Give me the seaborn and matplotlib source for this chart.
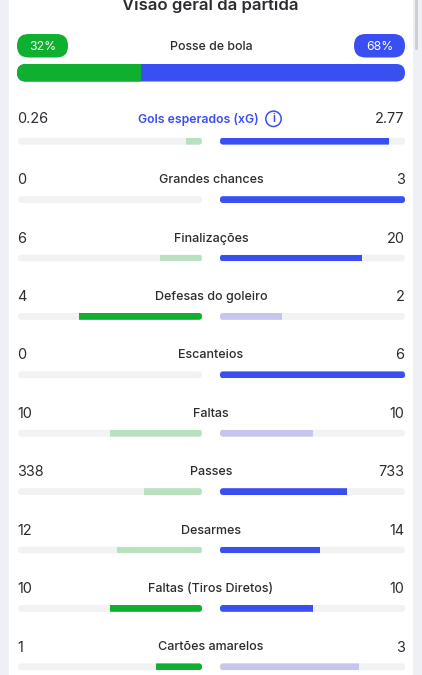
# -*- coding: utf-8 -*-
import matplotlib
matplotlib.use('Agg')
import matplotlib.pyplot as plt
from matplotlib.patches import FancyBboxPatch, Rectangle, Circle
import pandas as pd
import seaborn as sns

TITLE = 'Visão geral da partida'
POSSESSION_LABEL = 'Posse de bola'
POSSESSION_LEFT = 32
POSSESSION_RIGHT = 68

STATS = ['Gols esperados (xG)', 'Grandes chances', 'Finalizações', 'Defesas do goleiro', 'Escanteios',
         'Faltas', 'Passes', 'Desarmes', 'Faltas (Tiros Diretos)', 'Cartões amarelos']
LEFT_VALUES = [0.26, 0, 6, 4, 0, 10, 338, 12, 10, 1]
RIGHT_VALUES = [2.77, 3, 20, 2, 6, 10, 733, 14, 10, 3]
LEFT_LABELS = ['0.26', '0', '6', '4', '0', '10', '338', '12', '10', '1']
RIGHT_LABELS = ['2.77', '3', '20', '2', '6', '10', '733', '14', '10', '3']
LEFT_STRONG = [False, False, False, True, False, False, False, False, True, True]
RIGHT_STRONG = [True, True, True, False, True, False, True, True, True, False]

GREEN = '#0fb02f'
BLUE = '#3a4ff2'
GREEN_FADED = '#b9e1bf'
BLUE_FADED = '#c6c5ee'
TRACK = '#f1f2f4'
PAGE = '#eef0f6'
TEXT = '#2b2c30'
W, H = 422, 675
FIRST_ROW = 141.2
ROW_STEP = 58.4
BAR_PX = 6.8


def px_axes(fig, x0, x1, y0, y1):
    # eixo posicionado em pixels da imagem, y contado de cima
    return fig.add_axes([x0 / W, 1 - y1 / H, (x1 - x0) / W, (y1 - y0) / H])


def round_bars(ax, width_px, height_px, radius_px, square_end):
    x_min, x_max = sorted(ax.get_xlim())
    y_min, y_max = sorted(ax.get_ylim())
    x_per_px = (x_max - x_min) / width_px
    y_per_px = (y_max - y_min) / height_px
    r = radius_px * x_per_px
    for bar in list(ax.patches):
        x0, x1 = sorted([bar.get_x(), bar.get_x() + bar.get_width()])
        y0, y1 = bar.get_y(), bar.get_y() + bar.get_height()
        if x1 - x0 <= 0:
            bar.remove()
            continue
        # a ponta externa fica reta, a nao ser quando a barra ocupa tudo
        full = x1 - x0 >= 0.999
        box_x1 = x1 + 2 * r if square_end and not full else x1
        box = FancyBboxPatch((x0, y0), box_x1 - x0, y1 - y0,
                             boxstyle=f'round,pad=0,rounding_size={r}',
                             mutation_aspect=y_per_px / x_per_px,
                             facecolor=bar.get_facecolor(), edgecolor='none', zorder=bar.get_zorder())
        ax.add_patch(box)
        box.set_clip_path(Rectangle((x0, y0), x1 - x0, y1 - y0, transform=ax.transData))
        bar.remove()


def side_axes(fig, x0, x1, values, colors, invert):
    top = FIRST_ROW - ROW_STEP / 2
    bottom = FIRST_ROW + ROW_STEP * (len(STATS) - 0.5)
    ax = px_axes(fig, x0, x1, top, bottom)
    ax.patch.set_alpha(0)
    df = pd.DataFrame({'stat': STATS, 'share': values})
    width = BAR_PX / ROW_STEP
    sns.barplot(data=df, y='stat', x=[1] * len(STATS), color=TRACK, width=width, ax=ax, saturation=1, linewidth=0)
    ax.set_xlim(1, 0) if invert else ax.set_xlim(0, 1)
    ax.set_ylim(len(STATS) - 0.5, -0.5)
    round_bars(ax, x1 - x0, bottom - top, 3.2, False)
    tracks = list(ax.patches)
    for p in tracks:
        p.remove()
    sns.barplot(data=df, y='stat', x='share', hue='stat', palette=dict(zip(STATS, colors)), width=width,
                ax=ax, legend=False, saturation=1, linewidth=0)
    ax.set_xlim(1, 0) if invert else ax.set_xlim(0, 1)
    ax.set_ylim(len(STATS) - 0.5, -0.5)
    round_bars(ax, x1 - x0, bottom - top, 3.2, True)
    for p in tracks:
        ax.add_patch(p)
        p.set_zorder(0.5)
    ax.axis('off')
    return ax


def main():
    sns.set_theme(style='white')
    plt.rcParams['font.family'] = ['Inter', 'DejaVu Sans']
    fig = plt.figure(figsize=(W / 100, H / 100), dpi=100, facecolor=PAGE)

    bg = fig.add_axes([0, 0, 1, 1])
    bg.set_xlim(0, W)
    bg.set_ylim(H, 0)
    bg.axis('off')
    bg.add_patch(Rectangle((9, -5), 404, H + 10, facecolor='white', edgecolor='none'))
    bg.add_patch(FancyBboxPatch((415, -5), 3, 55, boxstyle='round,pad=0,rounding_size=1.5',
                                facecolor='#cfd0d6', edgecolor='none'))

    bg.text(210.5, 5, TITLE, ha='center', va='center', fontsize=12, fontweight='semibold', color=TEXT)

    # posse de bola
    bg.add_patch(FancyBboxPatch((17, 34), 51, 23.5, boxstyle='round,pad=0,rounding_size=11.7',
                                facecolor=GREEN, edgecolor='none'))
    bg.add_patch(FancyBboxPatch((354, 34), 51, 23.5, boxstyle='round,pad=0,rounding_size=11.7',
                                facecolor=BLUE, edgecolor='none'))
    bg.text(42.5, 47, f'{POSSESSION_LEFT}%', ha='center', va='center', fontsize=8.8, color='white')
    bg.text(379.5, 47, f'{POSSESSION_RIGHT}%', ha='center', va='center', fontsize=8.8, color='white')
    bg.text(211, 47.5, POSSESSION_LABEL, ha='center', va='center', fontsize=8.9, fontweight='medium', color=TEXT)

    pos_ax = px_axes(fig, 17, 405, 64, 81.5)
    pos_ax.patch.set_alpha(0)
    total = POSSESSION_LEFT + POSSESSION_RIGHT
    sns.barplot(x=[total], y=[POSSESSION_LABEL], color=BLUE, width=1, ax=pos_ax, saturation=1, linewidth=0)
    sns.barplot(x=[POSSESSION_LEFT], y=[POSSESSION_LABEL], color=GREEN, width=1, ax=pos_ax, saturation=1, linewidth=0)
    pos_ax.set_xlim(0, total)
    pos_ax.set_ylim(0.5, -0.5)
    pos_ax.axis('off')
    clip = FancyBboxPatch((17, 64), 388, 17.5, boxstyle='round,pad=0,rounding_size=8.7',
                          transform=bg.transData, facecolor='none', edgecolor='none')
    bg.add_patch(clip)
    for bar in pos_ax.patches:
        bar.set_clip_path(clip)

    # linhas das estatisticas
    left_share = [a / (a + b) for a, b in zip(LEFT_VALUES, RIGHT_VALUES)]
    right_share = [b / (a + b) for a, b in zip(LEFT_VALUES, RIGHT_VALUES)]
    left_colors = [GREEN if s else GREEN_FADED for s in LEFT_STRONG]
    right_colors = [BLUE if s else BLUE_FADED for s in RIGHT_STRONG]
    side_axes(fig, 18, 202, left_share, left_colors, True)
    side_axes(fig, 220, 405, right_share, right_colors, False)

    for i, stat in enumerate(STATS):
        y = FIRST_ROW + ROW_STEP * i - (21.8 if i == 0 else 19.3)
        bg.text(17, y, LEFT_LABELS[i], ha='left', va='center', fontsize=10.4, color=TEXT)
        bg.text(404.5, y, RIGHT_LABELS[i], ha='right', va='center', fontsize=10.4, color=TEXT)
        if i == 0:
            bg.text(198, y, stat, ha='center', va='center', fontsize=8.8, fontweight='semibold', color=BLUE)
            bg.add_patch(Circle((273.5, y - 0.6), 7.7, facecolor='none', edgecolor=BLUE, linewidth=1.1))
            bg.text(273.5, y - 0.2, 'i', ha='center', va='center', fontsize=8.5, fontweight='semibold', color=BLUE)
        else:
            bg.text(211, y, stat, ha='center', va='center', fontsize=9, fontweight='medium', color=TEXT)

    fig.savefig('out.png', dpi=100, facecolor=PAGE)


if __name__ == '__main__':
    main()
